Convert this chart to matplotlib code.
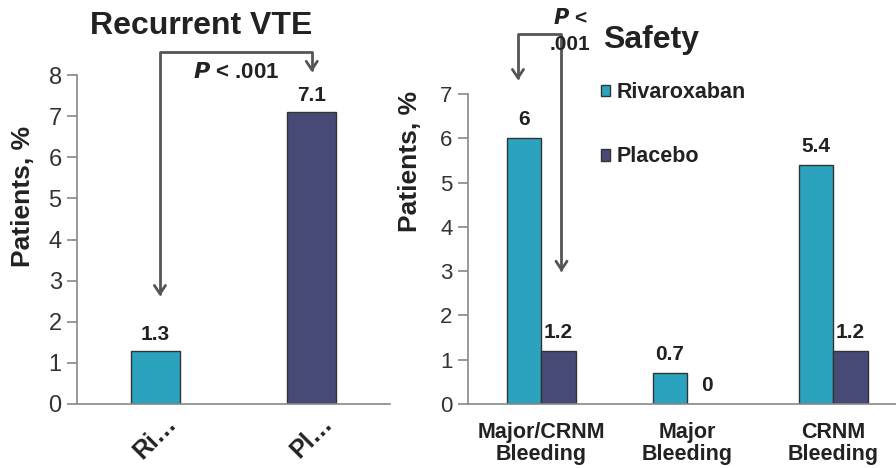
import matplotlib
matplotlib.use("Agg")
import matplotlib.pyplot as plt
import numpy as np
from matplotlib.patches import FancyArrowPatch
from matplotlib.path import Path

plt.rcParams['font.family'] = ['Liberation Sans', 'DejaVu Sans']

# data
vte_labels = ['Ri…', 'Pl…']
vte_values = [1.3, 7.1]

safety_cats = ['Major/CRNM\nBleeding', 'Major\nBleeding', 'CRNM\nBleeding']
riva_values = [6, 0.7, 5.4]
placebo_values = [1.2, 0, 1.2]
series_names = ['Rivaroxaban', 'Placebo']

teal = '#2BA3BF'
navy = '#474A77'
edge = '#333333'
grey = '#555555'
txt = '#222222'

W, H = 896, 468
fig = plt.figure(figsize=(W / 100, H / 100), dpi=100)

def frac(x0, x1, ytop, ybot):
    return [x0 / W, (H - ybot) / H, (x1 - x0) / W, (ybot - ytop) / H]

def style_axes(ax, fs):
    for s in ['top', 'right']:
        ax.spines[s].set_visible(False)
    for s in ['left', 'bottom']:
        ax.spines[s].set_color('#888888')
        ax.spines[s].set_linewidth(1.2)
    ax.tick_params(axis='y', length=7, width=1.2, color='#888888',
                   labelsize=fs, labelcolor='#333333', pad=4)
    ax.tick_params(axis='x', length=0)

def bracket(ax, xa, ya, yt, xb, yb):
    p = Path([(xa, ya), (xa, yt), (xb, yt), (xb, yb)])
    arr = FancyArrowPatch(path=p, arrowstyle='<->,head_length=6,head_width=4',
                          color=grey, lw=2, transform=ax.transData,
                          clip_on=False, shrinkA=0, shrinkB=0)
    ax.add_patch(arr)

# ---- left: recurrent VTE
ax1 = fig.add_axes(frac(77, 390, 75, 404))
x1 = np.arange(len(vte_values))
ax1.bar(x1, vte_values, width=0.31, color=[teal, navy], edgecolor=edge, linewidth=1)
ax1.set_xlim(-0.5, 1.5)
ax1.set_ylim(0, 8)
ax1.set_yticks(range(0, 9))
style_axes(ax1, 17)
ax1.set_xticks(x1)
ax1.set_xticklabels(vte_labels, rotation=45, ha='center', va='top',
                    fontsize=18, fontweight='bold', color=txt)
ax1.tick_params(axis='x', pad=5)
for xi, v in zip(x1, vte_values):
    ax1.text(xi, v + 0.16, f'{v:g}', ha='center', va='bottom',
             fontsize=15, fontweight='bold', color=txt)
ax1.set_ylabel('Patients, %', fontsize=19, fontweight='bold', color=txt)
ax1.yaxis.set_label_coords(-0.135, 0.63)
fig.text(201 / W, 1 - 26 / H, 'Recurrent VTE', ha='center', va='center',
         fontsize=23, fontweight='bold', color=txt)
bracket(ax1, 0.03, 2.62, 8.57, 1.0, 8.07)
ax1.text(0.52, 8.07, r'$\bfit{P}$ < .001', ha='center', va='center',
         fontsize=16, fontweight='bold', color=txt)

# ---- right: safety
ax2 = fig.add_axes(frac(468, 896, 94, 404))
x2 = np.arange(len(safety_cats))
bw = 0.236
ax2.bar(x2 - bw / 2, riva_values, width=bw, color=teal, edgecolor=edge,
        linewidth=1, label=series_names[0])
ax2.bar(x2 + bw / 2, placebo_values, width=bw, color=navy, edgecolor=edge,
        linewidth=1, label=series_names[1])
ax2.set_xlim(-0.5, 2.43)
ax2.set_ylim(0, 7)
ax2.set_yticks(range(0, 8))
style_axes(ax2, 16)
ax2.set_xticks(x2)
ax2.set_xticklabels(safety_cats, fontsize=15.5, fontweight='bold', color=txt,
                    linespacing=1.05)
ax2.tick_params(axis='x', pad=13)
for xi, v in zip(x2, riva_values):
    ax2.text(xi - bw / 2, v + 0.2, f'{v:g}', ha='center', va='bottom',
             fontsize=15, fontweight='bold', color=txt)
for xi, v in zip(x2, placebo_values):
    ax2.text(xi + bw / 2 + (0.02 if v == 0 else 0), v + 0.2, f'{v:g}',
             ha='center', va='bottom', fontsize=15, fontweight='bold', color=txt)
ax2.set_ylabel('Patients, %', fontsize=19, fontweight='bold', color=txt)
ax2.yaxis.set_label_coords(-0.108, 0.784)
fig.text(651 / W, 1 - 40 / H, 'Safety', ha='center', va='center',
         fontsize=23, fontweight='bold', color=txt)
bracket(ax2, 0.14, 2.98, 8.35, -0.158, 7.31)
ax2.text(0.20, 8.42, r'$\bfit{P}$ <' + '\n.001', ha='center', va='center',
         fontsize=15, fontweight='bold', color=txt, linespacing=1.45)
leg = ax2.legend(loc='upper left', bbox_to_anchor=(0.265, 1.1), frameon=False,
                 prop={'size': 15.5, 'weight': 'bold'}, handlelength=0.45,
                 handleheight=0.45, handletextpad=0.3, labelspacing=2.0)
for t in leg.get_texts():
    t.set_color(txt)

fig.savefig('out.png', dpi=100)
